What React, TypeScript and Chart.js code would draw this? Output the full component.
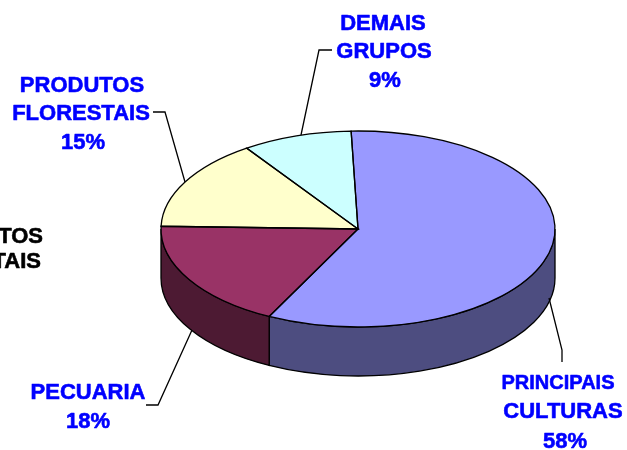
import React, { useEffect, useRef } from "react";
import { Chart, registerables } from "chart.js";

Chart.register(...registerables);

const categories = ["PRINCIPAIS CULTURAS", "PECUARIA", "PRODUTOS FLORESTAIS", "DEMAIS GRUPOS"];
const shares = [58, 18, 15, 9];
const topColors = ["#9999FF", "#993366", "#FFFFCC", "#CCFFFF"];
const sideColors = ["#4D4D80", "#4D1A33", "#808066", "#668080"];

const TILT = 98 / 197;
const DEPTH = 49;
const BLUE = "#0000FF";
const FONT = '"Liberation Sans", Arial, sans-serif';

type Line = { text: string; x: number; y: number; size?: number; align?: CanvasTextAlign; color?: string };

const pct = (i: number) => `${shares[i]}%`;

const textLines: Line[] = [
  { text: "PRINCIPAIS", x: 558, y: 389, size: 20 },
  { text: "CULTURAS", x: 563, y: 418 },
  { text: pct(0), x: 565, y: 448 },
  { text: "PECUARIA", x: 88, y: 399 },
  { text: pct(1), x: 88, y: 428 },
  { text: "PRODUTOS", x: 82, y: 92 },
  { text: "FLORESTAIS", x: 81, y: 120 },
  { text: pct(2), x: 83, y: 149 },
  { text: "DEMAIS", x: 383, y: 30 },
  { text: "GRUPOS", x: 384, y: 58 },
  { text: pct(3), x: 385, y: 87 },
  { text: "TOS", x: 43, y: 243, align: "right", color: "#000000" },
  { text: "TAIS", x: 41, y: 268, align: "right", color: "#000000" },
];

const leaders: number[][][] = [
  [[562, 362], [562, 350], [549, 298]],
  [[146, 405], [158, 405], [192, 330]],
  [[153, 112], [165, 112], [185, 182]],
  [[332, 50], [319, 50], [301, 135]],
];

function topPath(ctx: CanvasRenderingContext2D, a: any) {
  const ry = a.outerRadius * TILT;
  ctx.beginPath();
  ctx.moveTo(a.x, a.y);
  ctx.ellipse(a.x, a.y, a.outerRadius, ry, 0, a.startAngle, a.endAngle);
  ctx.closePath();
}

const pie3d = {
  id: "pie3d",
  beforeDatasetsDraw(chart: any) {
    const ctx: CanvasRenderingContext2D = chart.ctx;
    const arcs = chart.getDatasetMeta(0).data;
    ctx.save();
    ctx.lineWidth = 1.3;
    ctx.strokeStyle = "#000000";
    arcs.forEach((el: any, i: number) => {
      const a = el.getProps(["x", "y", "startAngle", "endAngle", "outerRadius"], true);
      const ry = a.outerRadius * TILT;
      [0, 2 * Math.PI].forEach((base) => {
        const from = Math.max(a.startAngle, base);
        const to = Math.min(a.endAngle, base + Math.PI);
        if (to <= from) return;
        ctx.beginPath();
        ctx.ellipse(a.x, a.y, a.outerRadius, ry, 0, from, to);
        ctx.ellipse(a.x, a.y + DEPTH, a.outerRadius, ry, 0, to, from, true);
        ctx.closePath();
        ctx.fillStyle = sideColors[i];
        ctx.fill();
        ctx.stroke();
      });
    });
    ctx.restore();
    // The library's own arcs are drawn flattened into the tilted ellipse.
    ctx.save();
    const first = arcs[0];
    ctx.translate(first.x, first.y);
    ctx.scale(1, TILT);
    ctx.translate(-first.x, -first.y);
  },
  afterDatasetsDraw(chart: any) {
    const ctx: CanvasRenderingContext2D = chart.ctx;
    ctx.restore();
    const arcs = chart.getDatasetMeta(0).data;
    ctx.save();
    ctx.lineWidth = 1.3;
    ctx.strokeStyle = "#000000";
    arcs.forEach((el: any) => {
      topPath(ctx, el.getProps(["x", "y", "startAngle", "endAngle", "outerRadius"], true));
      ctx.stroke();
    });
    leaders.forEach((pts) => {
      ctx.beginPath();
      pts.forEach(([x, y], k) => (k ? ctx.lineTo(x, y) : ctx.moveTo(x, y)));
      ctx.stroke();
    });
    ctx.textBaseline = "alphabetic";
    ctx.lineJoin = "round";
    ctx.lineWidth = 0.6;
    textLines.forEach((l) => {
      ctx.font = `bold ${l.size ?? 22}px ${FONT}`;
      ctx.textAlign = l.align ?? "center";
      ctx.fillStyle = l.color ?? BLUE;
      ctx.strokeStyle = l.color ?? BLUE;
      ctx.fillText(l.text, l.x, l.y);
      ctx.strokeText(l.text, l.x, l.y);
    });
    ctx.restore();
  },
};

export default function App() {
  const ref = useRef<HTMLCanvasElement>(null);
  useEffect(() => {
    const chart = new Chart(ref.current as HTMLCanvasElement, {
      type: "pie",
      data: {
        labels: categories,
        datasets: [{ data: shares, backgroundColor: topColors, borderWidth: 0 }],
      },
      options: {
        responsive: false,
        animation: false,
        rotation: -2,
        layout: { padding: { left: 161, right: 72, top: 32, bottom: 24 } },
        plugins: { legend: { display: false }, tooltip: { enabled: false } },
      },
      plugins: [pie3d],
    } as any);
    return () => chart.destroy();
  }, []);
  return (
    <div style={{ position: "absolute", left: 0, top: 0, width: 627, height: 450, background: "#fff" }}>
      <canvas ref={ref} width={627} height={450} style={{ display: "block" }} />
    </div>
  );
}
